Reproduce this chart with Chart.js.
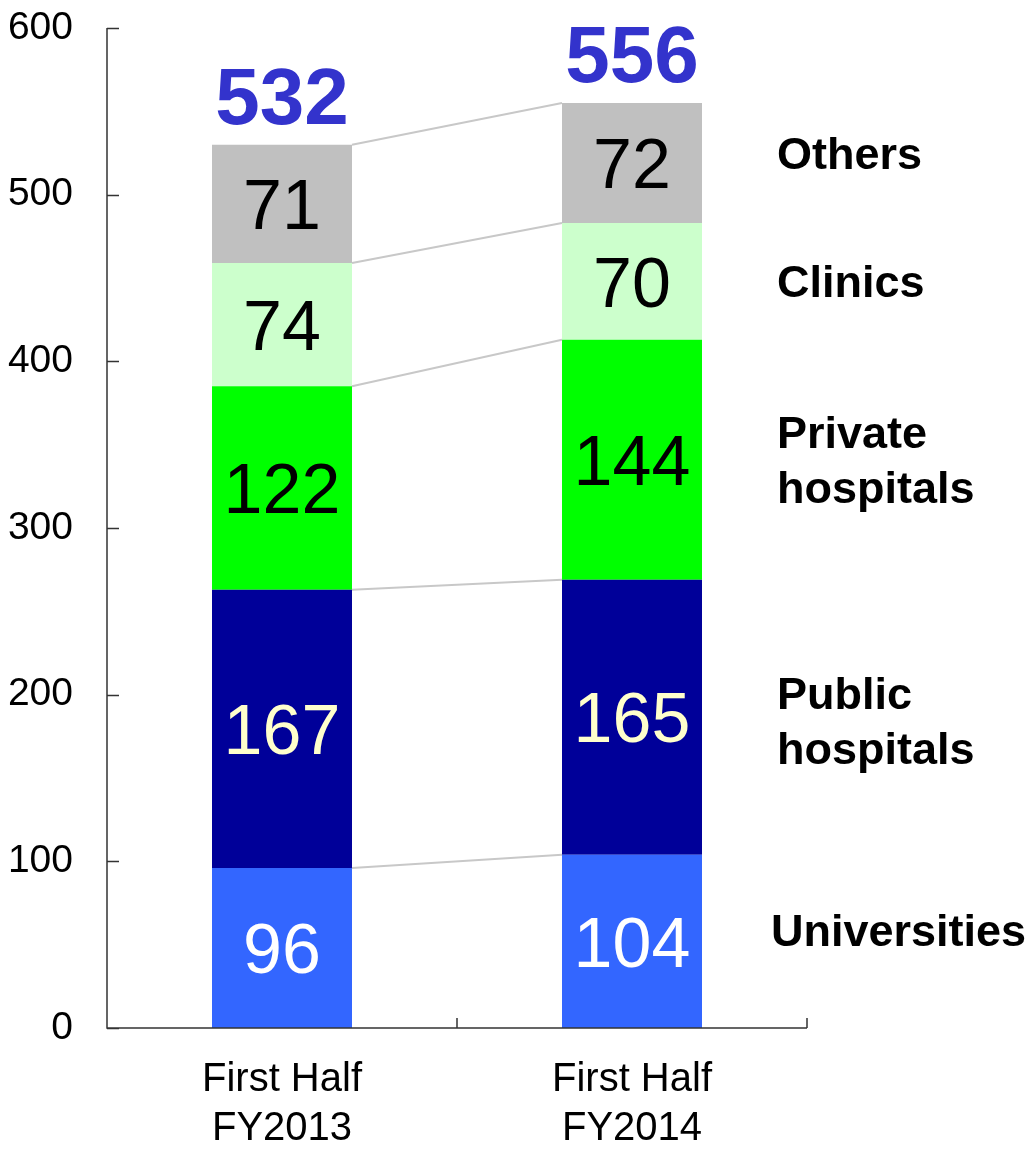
<!DOCTYPE html>
<html>
<head>
<meta charset="utf-8">
<script src="https://cdn.jsdelivr.net/npm/chart.js@4.4.1/dist/chart.umd.min.js"></script>
<style>
  html, body { margin: 0; padding: 0; background: #fff; }
  #wrap { width: 1033px; height: 1152px; }
</style>
</head>
<body>
<div id="wrap"><canvas id="myChart" width="1033" height="1152"></canvas></div>
<script>
// data
const categories = [['First Half', 'FY2013'], ['First Half', 'FY2014']];
const universities = [96, 104];
const publicHospitals = [167, 165];
const privateHospitals = [122, 144];
const clinics = [74, 70];
const others = [71, 72];
const totals = [532, 556];
const yTicks = [0, 100, 200, 300, 400, 500, 600];

const FONT = '"Liberation Sans", Arial, sans-serif';

// nudge = small vertical shift of the name on the right
const series = [
  { name: ['Universities'], data: universities, color: '#3366ff', text: '#ffffff', nudge: -8 },
  { name: ['Public', 'hospitals'], data: publicHospitals, color: '#000099', text: '#ffffcc', nudge: 7 },
  { name: ['Private', 'hospitals'], data: privateHospitals, color: '#00ff00', text: '#000000', nudge: 3 },
  { name: ['Clinics'], data: clinics, color: '#ccffcc', text: '#000000', nudge: 3 },
  { name: ['Others'], data: others, color: '#c0c0c0', text: '#000000', nudge: -6 },
];

const overlay = {
  id: 'overlay',
  afterDatasetsDraw(chart) {
    const ctx = chart.ctx;
    const area = chart.chartArea;
    const yScale = chart.scales.y;
    ctx.save();

    // connector lines between the bars
    ctx.strokeStyle = '#c8c8c8';
    ctx.lineWidth = 2;
    chart.data.datasets.forEach((ds, i) => {
      const m = chart.getDatasetMeta(i);
      const a = m.data[0], b = m.data[1];
      ctx.beginPath();
      ctx.moveTo(a.x + a.width / 2, a.y);
      ctx.lineTo(b.x - b.width / 2, b.y);
      ctx.stroke();
    });

    // values inside segments
    ctx.textAlign = 'center';
    ctx.textBaseline = 'middle';
    ctx.font = '70px ' + FONT;
    chart.data.datasets.forEach((ds, i) => {
      const m = chart.getDatasetMeta(i);
      m.data.forEach((el, j) => {
        ctx.fillStyle = series[i].text;
        ctx.fillText(String(ds.data[j]), el.x, (el.y + el.base) / 2 + 6);
      });
    });

    // totals on top
    const last = chart.getDatasetMeta(chart.data.datasets.length - 1);
    ctx.font = 'bold 80px ' + FONT;
    ctx.fillStyle = '#3333cc';
    ctx.textBaseline = 'alphabetic';
    last.data.forEach((el, j) => {
      ctx.fillText(String(totals[j]), el.x, el.y - 21);
    });

    // series names at the right of the second bar
    ctx.font = 'bold 45px ' + FONT;
    ctx.fillStyle = '#000';
    ctx.textAlign = 'left';
    ctx.textBaseline = 'middle';
    series.forEach((s, i) => {
      const el = chart.getDatasetMeta(i).data[1];
      const cy = (el.y + el.base) / 2 + s.nudge;
      const x0 = s.name[0] === 'Universities' ? 771 : 777;
      s.name.forEach((line, k) => {
        const off = (k - (s.name.length - 1) / 2) * 55;
        ctx.fillText(line, x0, cy + off);
      });
    });

    // axes with inward ticks
    ctx.strokeStyle = '#333';
    ctx.lineWidth = 1.5;
    ctx.beginPath();
    ctx.moveTo(area.left, area.top);
    ctx.lineTo(area.left, area.bottom);
    ctx.lineTo(area.right, area.bottom);
    yScale.ticks.forEach(t => {
      const py = Math.round(yScale.getPixelForValue(t.value)) + 0.5;
      ctx.moveTo(area.left, py);
      ctx.lineTo(area.left + 12, py);
    });
    const m0 = chart.getDatasetMeta(0).data;
    const mid = (m0[0].x + m0[1].x) / 2;
    [area.left, mid, area.right].forEach(px => {
      ctx.moveTo(px, area.bottom);
      ctx.lineTo(px, area.bottom - 10);
    });
    ctx.stroke();
    ctx.restore();
  }
};

new Chart(document.getElementById('myChart'), {
  type: 'bar',
  data: {
    labels: categories,
    datasets: series.map(s => ({
      label: s.name.join(' '),
      data: s.data,
      backgroundColor: s.color,
      borderWidth: 0,
      categoryPercentage: 0.4,
      barPercentage: 1,
    })),
  },
  options: {
    responsive: false,
    animation: false,
    layout: { padding: { top: 28, right: 226, left: 0, bottom: 0 } },
    plugins: {
      legend: { display: false },
      tooltip: { enabled: false },
    },
    scales: {
      x: {
        stacked: true,
        grid: { display: false },
        border: { display: false },
        ticks: {
          color: '#000',
          font: { family: FONT, size: 40, lineHeight: 1.22 },
          padding: 20,
          maxRotation: 0,
        },
        afterFit: s => { s.height = 124; s.paddingLeft = 0; s.paddingRight = 0; },
      },
      y: {
        stacked: true,
        min: 0,
        max: 600,
        grid: { display: false },
        border: { display: false },
        afterBuildTicks: s => { s.ticks = yTicks.map(v => ({ value: v })); },
        ticks: {
          color: '#000',
          font: { family: FONT, size: 39 },
          padding: 26,
        },
        afterFit: s => { s.width = 107; s.paddingTop = 0; s.paddingBottom = 0; },
      },
    },
  },
  plugins: [overlay],
});
</script>
</body>
</html>
